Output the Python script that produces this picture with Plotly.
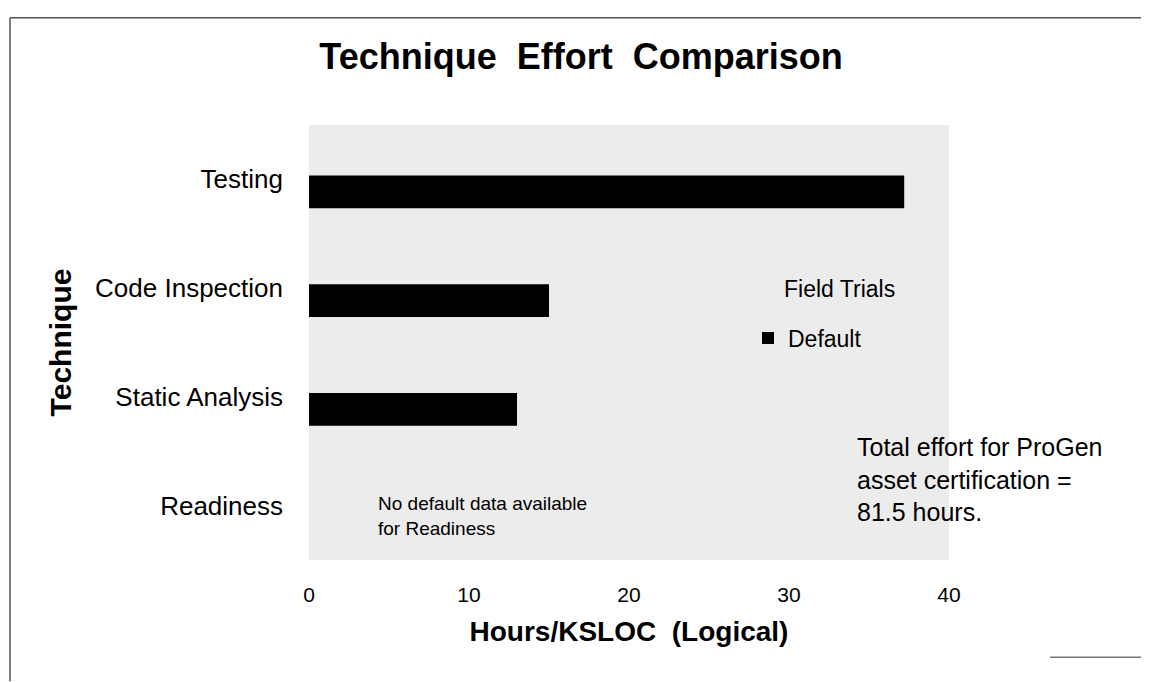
import plotly.graph_objects as go

# Data
techniques = ["Testing", "Code Inspection", "Static Analysis", "Readiness"]
default_hours = [37.2, 15.0, 13.0, None]
x_ticks = [0, 10, 20, 30, 40]

FONT = "Liberation Sans, Arial, sans-serif"

# page is drawn 8px in from the window edge (body margin), so work in window
# pixels and shift by OFF
OFF = 8
W, H = 1149, 682
X0, X1 = 309, 949      # plot area left/right in window px
Y0, Y1 = 124.5, 560.5  # plot area top/bottom in window px
pw, ph = X1 - X0, Y1 - Y0


def px(x):
    return (x - X0) / pw


def py(y):
    return (Y1 - y) / ph


fig = go.Figure()

fig.add_trace(go.Bar(
    y=techniques, x=default_hours, orientation="h",
    name="Default",
    marker=dict(color="black", line=dict(width=0)),
    width=0.3, offset=-0.035,
))

fig.update_layout(
    width=W - OFF, height=H - OFF,
    margin=dict(l=X0 - OFF, r=W - X1, t=Y0 - OFF, b=H - Y1, pad=0),
    paper_bgcolor="white",
    plot_bgcolor="#ececec",
    font=dict(family=FONT, color="black"),
    title=dict(
        text="<b>Technique  Effort  Comparison</b>",
        x=px(581), xanchor="center", xref="paper",
        y=1 - (56 - OFF) / (H - OFF), yanchor="middle", yref="container",
        font=dict(size=36, family=FONT),
    ),
    xaxis=dict(
        range=[0, 40], tickvals=x_ticks,
        showgrid=False, zeroline=False, showline=False,
        ticks="", ticklabelstandoff=20,
        tickfont=dict(size=21),
        title=dict(text="<b>Hours/KSLOC  (Logical)</b>",
                   font=dict(size=28), standoff=16),
    ),
    yaxis=dict(
        autorange="reversed",
        showgrid=False, zeroline=False, showline=False,
        ticks="", ticklabelstandoff=25,
        tickfont=dict(size=26),
        title=dict(text="<b>Technique</b>", font=dict(size=30),
                   standoff=14),
    ),
    showlegend=True,
    legend=dict(
        x=px(748), y=py(338), xanchor="left", yanchor="middle",
        bgcolor="rgba(0,0,0,0)",
        font=dict(size=23),
    ),
    bargap=0.5,
)

# legend heading sits above the single legend entry
fig.add_annotation(
    text="Field Trials", xref="paper", yref="paper",
    x=px(782), y=py(289), xanchor="left", yanchor="middle",
    showarrow=False, font=dict(size=23),
)
fig.add_annotation(
    text="No default data available<br>for Readiness",
    xref="paper", yref="paper", x=px(376), y=py(516),
    xanchor="left", yanchor="middle", align="left",
    showarrow=False, font=dict(size=19),
)
fig.add_annotation(
    text="Total effort for ProGen<br>asset certification =<br>81.5 hours.",
    xref="paper", yref="paper", x=px(855), y=py(480),
    xanchor="left", yanchor="middle", align="left",
    showarrow=False, font=dict(size=25),
)

# scanned page frame
frame = dict(xref="paper", yref="paper", type="line")
fig.add_shape(**frame, x0=px(10), x1=px(W), y0=py(17), y1=py(17),
              line=dict(color="#555555", width=1.5))
fig.add_shape(**frame, x0=px(10), x1=px(10), y0=py(17), y1=py(H),
              line=dict(color="#555555", width=1.5))
fig.add_shape(**frame, x0=px(1050), x1=px(W), y0=py(658), y1=py(658),
              line=dict(color="#777777", width=1.5))

fig.write_html("out.html")
